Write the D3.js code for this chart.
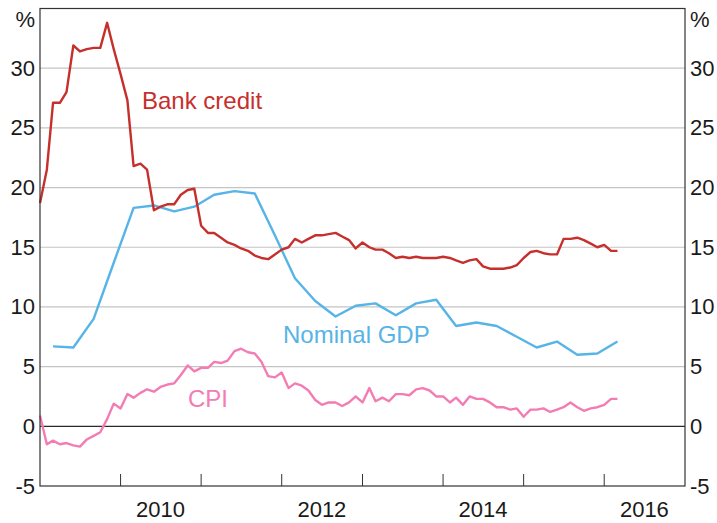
<!DOCTYPE html>
<html>
<head>
<meta charset="utf-8">
<script src="https://cdn.jsdelivr.net/npm/d3@7"></script>
<style>
  html, body { margin: 0; padding: 0; background: #fff; }
  svg { display: block; font-family: "Liberation Sans", Arial, sans-serif; }
</style>
</head>
<body>
<svg id="chart" width="717" height="523"></svg>
<script>
// ---- Data ----
const firstMonth = "2009-01";   // first monthly observation
const bankCredit = [
  18.7,21.5,27.1,27.1,28.0,31.9,31.4,31.6,31.7,31.7,
  33.8,31.6,29.5,27.3,21.8,22.0,21.5,18.1,18.4,18.6,
  18.6,19.4,19.8,19.9,16.8,16.2,16.2,15.8,15.4,15.2,
  14.9,14.7,14.3,14.1,14.0,14.4,14.8,15.0,15.7,15.4,
  15.7,16.0,16.0,16.1,16.2,15.9,15.6,14.9,15.4,15.0,
  14.8,14.8,14.5,14.1,14.2,14.1,14.2,14.1,14.1,14.1,
  14.2,14.1,13.9,13.7,13.9,14.0,13.4,13.2,13.2,13.2,
  13.3,13.5,14.1,14.6,14.7,14.5,14.4,14.4,15.7,15.7,
  15.8,15.6,15.3,15.0,15.2,14.7,14.7
];
const cpi = [
  0.9,-1.5,-1.2,-1.5,-1.4,-1.6,-1.7,-1.1,-0.8,-0.5,
  0.6,1.9,1.5,2.7,2.4,2.8,3.1,2.9,3.3,3.5,
  3.6,4.3,5.1,4.6,4.9,4.9,5.4,5.3,5.5,6.3,
  6.5,6.2,6.1,5.4,4.2,4.1,4.5,3.2,3.6,3.4,
  3.0,2.2,1.8,2.0,2.0,1.7,2.0,2.5,2.0,3.2,
  2.1,2.4,2.1,2.7,2.7,2.6,3.1,3.2,3.0,2.5,
  2.5,2.0,2.4,1.8,2.5,2.3,2.3,2.0,1.6,1.6,
  1.4,1.5,0.8,1.4,1.4,1.5,1.2,1.4,1.6,2.0,
  1.6,1.3,1.5,1.6,1.8,2.3,2.3
];
const gdpQuarters = [
  "2009-03","2009-06","2009-09","2009-12","2010-03","2010-06","2010-09","2010-12",
  "2011-03","2011-06","2011-09","2011-12","2012-03","2012-06","2012-09","2012-12",
  "2013-03","2013-06","2013-09","2013-12","2014-03","2014-06","2014-09","2014-12",
  "2015-03","2015-06","2015-09","2015-12","2016-03"
];
const nominalGDP = [
  6.7,6.6,9.0,13.7,18.3,18.5,18.0,18.4,
  19.4,19.7,19.5,16.0,12.4,10.5,9.2,10.1,
  10.3,9.3,10.3,10.6,8.4,8.7,8.4,7.5,
  6.6,7.1,6.0,6.1,7.1
];
const yTicks = [-5,0,5,10,15,20,25,30];
const yearTicks = [2010,2011,2012,2013,2014,2015,2016];
const yearLabels = [2010,2012,2014,2016];
const seriesNames = ["Bank credit","Nominal GDP","CPI"];

// ---- Layout ----
const W = 717, H = 523;
const L = 40, R = 685, T = 8.5, B = 486;
const colors = { bank: "#c6302c", gdp: "#56b4e6", cpi: "#f37db3" };

const parseMonth = d3.timeParse("%Y-%m");
const x = d3.scaleTime()
  .domain([new Date(2009,0,1), new Date(2017,0,1)])
  .range([L, R]);
const y = d3.scaleLinear().domain([-5,35]).range([B, T]);

const svg = d3.select("#chart");

// gridlines
svg.append("g").selectAll("line")
  .data(yTicks.filter(v => v !== 0 && v !== -5))
  .join("line")
  .attr("x1", L).attr("x2", R)
  .attr("y1", d => y(d)).attr("y2", d => y(d))
  .attr("stroke", "#c4c4c4").attr("stroke-width", 1.2);

// axes labels left/right
const fontSize = 22;
svg.append("g").selectAll("text")
  .data(yTicks).join("text")
  .attr("x", L - 5).attr("y", d => y(d))
  .attr("text-anchor", "end").attr("dominant-baseline", "central")
  .attr("font-size", fontSize).attr("fill", "#1a1a1a")
  .text(d => d);
svg.append("g").selectAll("text")
  .data(yTicks).join("text")
  .attr("x", R + 5).attr("y", d => y(d))
  .attr("text-anchor", "start").attr("dominant-baseline", "central")
  .attr("font-size", fontSize).attr("fill", "#1a1a1a")
  .text(d => d);
svg.append("text").attr("x", L - 5).attr("y", 19)
  .attr("text-anchor", "end").attr("dominant-baseline", "central")
  .attr("font-size", fontSize).attr("fill", "#1a1a1a").text("%");
svg.append("text").attr("x", R + 5).attr("y", 19)
  .attr("text-anchor", "start").attr("dominant-baseline", "central")
  .attr("font-size", fontSize).attr("fill", "#1a1a1a").text("%");

// x ticks
svg.append("g").selectAll("line")
  .data(yearTicks).join("line")
  .attr("x1", d => x(new Date(d,0,1))).attr("x2", d => x(new Date(d,0,1)))
  .attr("y1", B).attr("y2", B - 12)
  .attr("stroke", "#333").attr("stroke-width", 1);
svg.append("g").selectAll("text")
  .data(yearLabels).join("text")
  .attr("x", d => x(new Date(d,6,1)))
  .attr("y", 509)
  .attr("text-anchor", "middle").attr("dominant-baseline", "central")
  .attr("font-size", fontSize).attr("fill", "#1a1a1a")
  .text(d => d);

// zero line
svg.append("line").attr("x1", L).attr("x2", R)
  .attr("y1", y(0)).attr("y2", y(0))
  .attr("stroke", "#2a2a2a").attr("stroke-width", 1.3);

// series
const start = parseMonth(firstMonth);
const monthly = arr => arr.map((v,i) => ({date: d3.timeMonth.offset(start, i), v}));
const line = d3.line().x(d => x(d.date)).y(d => y(d.v));

const gdpData = gdpQuarters.map((q,i) => ({date: parseMonth(q), v: nominalGDP[i]}));

svg.append("path").datum(gdpData).attr("d", line)
  .attr("fill","none").attr("stroke", colors.gdp).attr("stroke-width", 2.4)
  .attr("stroke-linejoin","round");
svg.append("path").datum(monthly(cpi)).attr("d", line)
  .attr("fill","none").attr("stroke", colors.cpi).attr("stroke-width", 2.4)
  .attr("stroke-linejoin","round");
svg.append("path").datum(monthly(bankCredit)).attr("d", line)
  .attr("fill","none").attr("stroke", colors.bank).attr("stroke-width", 2.4)
  .attr("stroke-linejoin","round");

// series labels
const labelSize = 24;
svg.append("text").attr("x", 142).attr("y", 109)
  .attr("font-size", labelSize).attr("fill", colors.bank).text(seriesNames[0]);
svg.append("text").attr("x", 283).attr("y", 343)
  .attr("font-size", labelSize).attr("fill", colors.gdp).text(seriesNames[1]);
svg.append("text").attr("x", 188).attr("y", 407)
  .attr("font-size", labelSize).attr("fill", colors.cpi).text(seriesNames[2]);

// border
svg.append("rect").attr("x", L).attr("y", T).attr("width", R - L).attr("height", B - T)
  .attr("fill","none").attr("stroke","#333").attr("stroke-width",1.2);
</script>
</body>
</html>
